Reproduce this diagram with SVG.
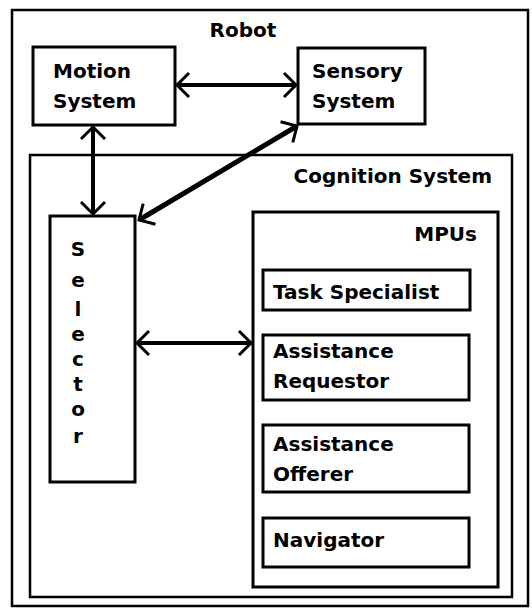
<svg xmlns="http://www.w3.org/2000/svg" width="532" height="608" viewBox="0 0 532 608">
<defs>
<style>
.box{fill:#fff;stroke:#000;stroke-width:3}
.frame{fill:none;stroke:#000;stroke-width:2.5}
.t{font-family:"DejaVu Sans","Liberation Sans",Arial,sans-serif;font-weight:bold;font-size:20px;fill:#000}
.c{stroke:#000;stroke-width:4;fill:none}
.d{stroke:#000;stroke-width:5;fill:none}
</style>
<marker id="ah" markerUnits="userSpaceOnUse" viewBox="-14 -14 16 28" refX="0" refY="0" markerWidth="16" markerHeight="28" orient="auto-start-reverse" overflow="visible">
<path d="M-12,-12 L0,0 L-12,12" fill="none" stroke="#000" stroke-width="3"/>
</marker>
</defs>
<rect width="532" height="608" fill="#fff"/>
<g id="robot">
<rect class="frame" x="12" y="10" width="516" height="596"/>
<text class="t" x="243" y="37" text-anchor="middle">Robot</text>
</g>
<g id="cognition">
<rect class="frame" x="30" y="155" width="482" height="442"/>
<text class="t" x="492" y="183" text-anchor="end">Cognition System</text>
</g>
<g id="motion">
<rect class="box" x="33" y="47" width="142" height="78"/>
<text class="t" x="53" y="78">Motion</text>
<text class="t" x="53" y="108">System</text>
</g>
<g id="sensory">
<rect class="box" x="298" y="48" width="127" height="76"/>
<text class="t" x="312" y="78">Sensory</text>
<text class="t" x="312" y="108">System</text>
</g>
<g id="selector">
<rect class="box" x="50" y="216" width="85" height="266"/>
<g class="t" text-anchor="middle">
<text x="78" y="256">S</text>
<text x="78" y="287">e</text>
<text x="78" y="316">l</text>
<text x="78" y="341">e</text>
<text x="78" y="366">c</text>
<text x="78" y="391">t</text>
<text x="78" y="416">o</text>
<text x="78" y="443">r</text>
</g>
</g>
<g id="mpus">
<rect class="box" x="253" y="212" width="245" height="375"/>
<text class="t" x="477" y="241" text-anchor="end">MPUs</text>
</g>
<g id="task-specialist">
<rect class="box" x="263" y="270" width="207" height="40"/>
<text class="t" x="273" y="299">Task Specialist</text>
</g>
<g id="assistance-requestor">
<rect class="box" x="263" y="335" width="206" height="65"/>
<text class="t" x="273" y="358">Assistance</text>
<text class="t" x="273" y="388">Requestor</text>
</g>
<g id="assistance-offerer">
<rect class="box" x="263" y="425" width="206" height="67"/>
<text class="t" x="273" y="451">Assistance</text>
<text class="t" x="273" y="481">Offerer</text>
</g>
<g id="navigator">
<rect class="box" x="263" y="518" width="206" height="49"/>
<text class="t" x="273" y="547">Navigator</text>
</g>
<g id="connectors">
<line class="c" x1="177" y1="85" x2="296" y2="85" marker-start="url(#ah)" marker-end="url(#ah)"/>
<line class="c" x1="93" y1="127" x2="93" y2="214" marker-start="url(#ah)" marker-end="url(#ah)"/>
<line class="d" x1="139" y1="220" x2="297" y2="126" marker-start="url(#ah)" marker-end="url(#ah)"/>
<line class="c" x1="137" y1="343" x2="251" y2="343" marker-start="url(#ah)" marker-end="url(#ah)"/>
</g>
</svg>
